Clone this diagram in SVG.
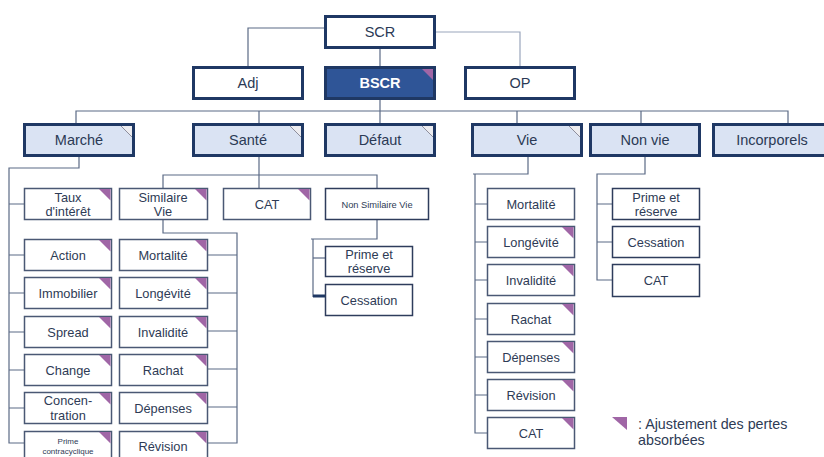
<svg xmlns="http://www.w3.org/2000/svg" width="824" height="457" viewBox="0 0 824 457">
<style>
.main rect{fill:#DAE3F3;stroke:#1F3864;stroke-width:3}
.main.white rect{fill:#FFFFFF}
.main.dark rect{fill:#2F5597}
.main text{font-family:"Liberation Sans",Arial,sans-serif;font-size:14.5px;fill:#2B3A55;text-anchor:middle}
.main.dark text{fill:#FFFFFF;font-weight:bold}
.sub rect{fill:#FFFFFF;stroke:#4A5874;stroke-width:1.5}
.sub.nv rect{stroke:#2E3C5C}
.sub text{font-family:"Liberation Sans",Arial,sans-serif;font-size:12.8px;fill:#2E3B55;text-anchor:middle}
.fold{fill:#ECECF0}
.foldline{stroke:#8E8E9C;stroke-width:1}
.tri{fill:#A066A6}
.conn path{fill:none;stroke:#5B6A85;stroke-width:1.2}
.conn path.light{stroke:#9AA6BC}
.conn path.thick{stroke:#1F3864;stroke-width:3}
.legend text{font-family:"Liberation Sans",Arial,sans-serif;font-size:14.3px;fill:#2E3B55}
</style>

<g id="connectors" class="conn">
<path d="M324,28 H248 V66"/>
<path class="light" d="M436,32 H520 V66"/>
<path d="M380,49 V66"/>
<path d="M380,100 V123"/>
<path d="M76,123 V111 H788 V123"/>
<path d="M259,111 V123"/>
<path d="M517,111 V123"/>
<path d="M641,111 V123"/>
<path d="M79,157 V168 H9 V443 H24"/>
<path d="M9,204 H24 M9,255 H24 M9,293 H24 M9,332 H24 M9,370 H24 M9,408 H24"/>
<path d="M259,157 V188"/>
<path d="M163,188 V175 H377 V188"/>
<path d="M163,220 V233 H237 V443 H208"/>
<path d="M208,255 H237 M208,293 H237 M208,331 H237 M208,369 H237 M208,407 H237"/>
<path d="M377,220 V239 H311 M313,239 V297"/>
<path d="M313,258 H327"/>
<path class="thick" d="M313,296 H326"/>
<path d="M528,157 V174 H473 M475,174 V433 H487"/>
<path d="M475,204 H487 M475,242 H487 M475,280 H487 M475,319 H487 M475,357 H487 M475,395 H487"/>
<path d="M645,157 V174 H597 V280 H612"/>
<path d="M597,204 H612 M597,242 H612"/>
</g>

<g id="n-scr" class="main white"><rect x="325.5" y="16.5" width="109" height="31"/><text x="380" y="37">SCR</text></g>
<g id="n-adj" class="main white"><rect x="193.5" y="67.5" width="109" height="31"/><text x="248" y="88">Adj</text></g>
<g id="n-bscr" class="main dark"><rect x="325.5" y="67.5" width="109" height="31"/><polygon class="tri" points="422,69 433,69 433,80"/><text x="380" y="88">BSCR</text></g>
<g id="n-op" class="main white"><rect x="465.5" y="67.5" width="109" height="31"/><text x="520" y="88">OP</text></g>

<g id="n-marche" class="main"><rect x="24.5" y="124.5" width="109" height="31"/><polygon class="fold" points="121,126 132,126 132,137"/><line class="foldline" x1="121" y1="126" x2="132" y2="137"/><text x="79" y="145">Marché</text></g>
<g id="n-sante" class="main"><rect x="193.5" y="124.5" width="109" height="31"/><polygon class="fold" points="290,126 301,126 301,137"/><line class="foldline" x1="290" y1="126" x2="301" y2="137"/><text x="248" y="145">Santé</text></g>
<g id="n-defaut" class="main"><rect x="325.5" y="124.5" width="109" height="31"/><polygon class="fold" points="422,126 433,126 433,137"/><line class="foldline" x1="422" y1="126" x2="433" y2="137"/><text x="380" y="145">Défaut</text></g>
<g id="n-vie" class="main"><rect x="472.5" y="124.5" width="109" height="31"/><polygon class="fold" points="569,126 580,126 580,137"/><line class="foldline" x1="569" y1="126" x2="580" y2="137"/><text x="527" y="145">Vie</text></g>
<g id="n-nonvie" class="main"><rect x="590.5" y="124.5" width="109" height="31"/><text x="645" y="145">Non vie</text></g>
<g id="n-incorporels" class="main"><rect x="713.5" y="124.5" width="117" height="31"/><text x="772" y="145">Incorporels</text></g>

<g id="m-taux" class="sub"><rect x="24.5" y="188.5" width="87" height="31"/><polygon class="tri" points="99,189 110.5,189 110.5,200.5"/><text x="68" y="202">Taux</text><text x="68" y="216">d'intérêt</text></g>
<g id="m-action" class="sub"><rect x="24.5" y="239.5" width="87" height="31"/><polygon class="tri" points="99,240 110.5,240 110.5,251.5"/><text x="68" y="259.5">Action</text></g>
<g id="m-immo" class="sub"><rect x="24.5" y="277.5" width="87" height="31"/><polygon class="tri" points="99,278 110.5,278 110.5,289.5"/><text x="68" y="297.5">Immobilier</text></g>
<g id="m-spread" class="sub"><rect x="24.5" y="316.5" width="87" height="31"/><polygon class="tri" points="99,317 110.5,317 110.5,328.5"/><text x="68" y="336.5">Spread</text></g>
<g id="m-change" class="sub"><rect x="24.5" y="354.5" width="87" height="31"/><polygon class="tri" points="99,355 110.5,355 110.5,366.5"/><text x="68" y="374.5">Change</text></g>
<g id="m-conc" class="sub"><rect x="24.5" y="392.5" width="87" height="31"/><polygon class="tri" points="99,393 110.5,393 110.5,404.5"/><text x="68" y="405">Concen-</text><text x="68" y="420">tration</text></g>
<g id="m-prime" class="sub"><rect x="24.5" y="431.5" width="87" height="31"/><polygon class="tri" points="99,432 110.5,432 110.5,443.5"/><text x="68" y="444" style="font-size:8px">Prime</text><text x="68" y="453.5" style="font-size:8px">contracyclique</text></g>

<g id="s-simvie" class="sub"><rect x="119.5" y="188.5" width="88" height="31"/><polygon class="tri" points="195,189 206.5,189 206.5,200.5"/><text x="163" y="202">Similaire</text><text x="163" y="216">Vie</text></g>
<g id="s-mort" class="sub"><rect x="119.5" y="239.5" width="88" height="31"/><polygon class="tri" points="195,240 206.5,240 206.5,251.5"/><text x="163" y="259.5">Mortalité</text></g>
<g id="s-long" class="sub"><rect x="119.5" y="277.5" width="88" height="31"/><polygon class="tri" points="195,278 206.5,278 206.5,289.5"/><text x="163" y="297.5">Longévité</text></g>
<g id="s-inval" class="sub"><rect x="119.5" y="316.5" width="88" height="31"/><polygon class="tri" points="195,317 206.5,317 206.5,328.5"/><text x="163" y="336.5">Invalidité</text></g>
<g id="s-rachat" class="sub"><rect x="119.5" y="354.5" width="88" height="31"/><polygon class="tri" points="195,355 206.5,355 206.5,366.5"/><text x="163" y="374.5">Rachat</text></g>
<g id="s-dep" class="sub"><rect x="119.5" y="392.5" width="88" height="31"/><polygon class="tri" points="195,393 206.5,393 206.5,404.5"/><text x="163" y="412.5">Dépenses</text></g>
<g id="s-rev" class="sub"><rect x="119.5" y="431.5" width="88" height="31"/><polygon class="tri" points="195,432 206.5,432 206.5,443.5"/><text x="163" y="451">Révision</text></g>
<g id="s-cat" class="sub"><rect x="223.5" y="188.5" width="87" height="31"/><polygon class="tri" points="298,189 309.5,189 309.5,200.5"/><text x="267" y="208.5">CAT</text></g>
<g id="s-nonsim" class="sub nv"><rect x="325.5" y="188.5" width="103" height="31"/><text x="377" y="207.5" style="font-size:9.3px">Non Similaire Vie</text></g>
<g id="s-prime" class="sub nv"><rect x="325.5" y="246.5" width="87" height="30"/><text x="369" y="259">Prime et</text><text x="369" y="273">réserve</text></g>
<g id="s-cess" class="sub nv"><rect x="325.5" y="284.5" width="87" height="31"/><text x="369" y="304.5">Cessation</text></g>

<g id="v-mort" class="sub"><rect x="487.5" y="188.5" width="87" height="31"/><text x="531" y="208.5">Mortalité</text></g>
<g id="v-long" class="sub"><rect x="487.5" y="226.5" width="87" height="31"/><polygon class="tri" points="562,227 573.5,227 573.5,238.5"/><text x="531" y="246.5">Longévité</text></g>
<g id="v-inval" class="sub"><rect x="487.5" y="264.5" width="87" height="31"/><polygon class="tri" points="562,265 573.5,265 573.5,276.5"/><text x="531" y="284.5">Invalidité</text></g>
<g id="v-rachat" class="sub"><rect x="487.5" y="303.5" width="87" height="31"/><polygon class="tri" points="562,304 573.5,304 573.5,315.5"/><text x="531" y="323.5">Rachat</text></g>
<g id="v-dep" class="sub"><rect x="487.5" y="341.5" width="87" height="31"/><polygon class="tri" points="562,342 573.5,342 573.5,353.5"/><text x="531" y="361.5">Dépenses</text></g>
<g id="v-rev" class="sub"><rect x="487.5" y="379.5" width="87" height="31"/><polygon class="tri" points="562,380 573.5,380 573.5,391.5"/><text x="531" y="399.5">Révision</text></g>
<g id="v-cat" class="sub"><rect x="487.5" y="417.5" width="87" height="31"/><polygon class="tri" points="562,418 573.5,418 573.5,429.5"/><text x="531" y="437.5">CAT</text></g>

<g id="nv-prime" class="sub nv"><rect x="612.5" y="188.5" width="87" height="31"/><text x="656" y="202">Prime et</text><text x="656" y="216">réserve</text></g>
<g id="nv-cess" class="sub nv"><rect x="612.5" y="226.5" width="87" height="31"/><text x="656" y="246.5">Cessation</text></g>
<g id="nv-cat" class="sub nv"><rect x="612.5" y="264.5" width="87" height="32"/><text x="656" y="285">CAT</text></g>

<g id="legend" class="legend">
<polygon class="tri" points="612,417 627,417 627,430"/>
<text x="638" y="429">: Ajustement des pertes</text>
<text x="638" y="445">absorbées</text>
</g>
</svg>
